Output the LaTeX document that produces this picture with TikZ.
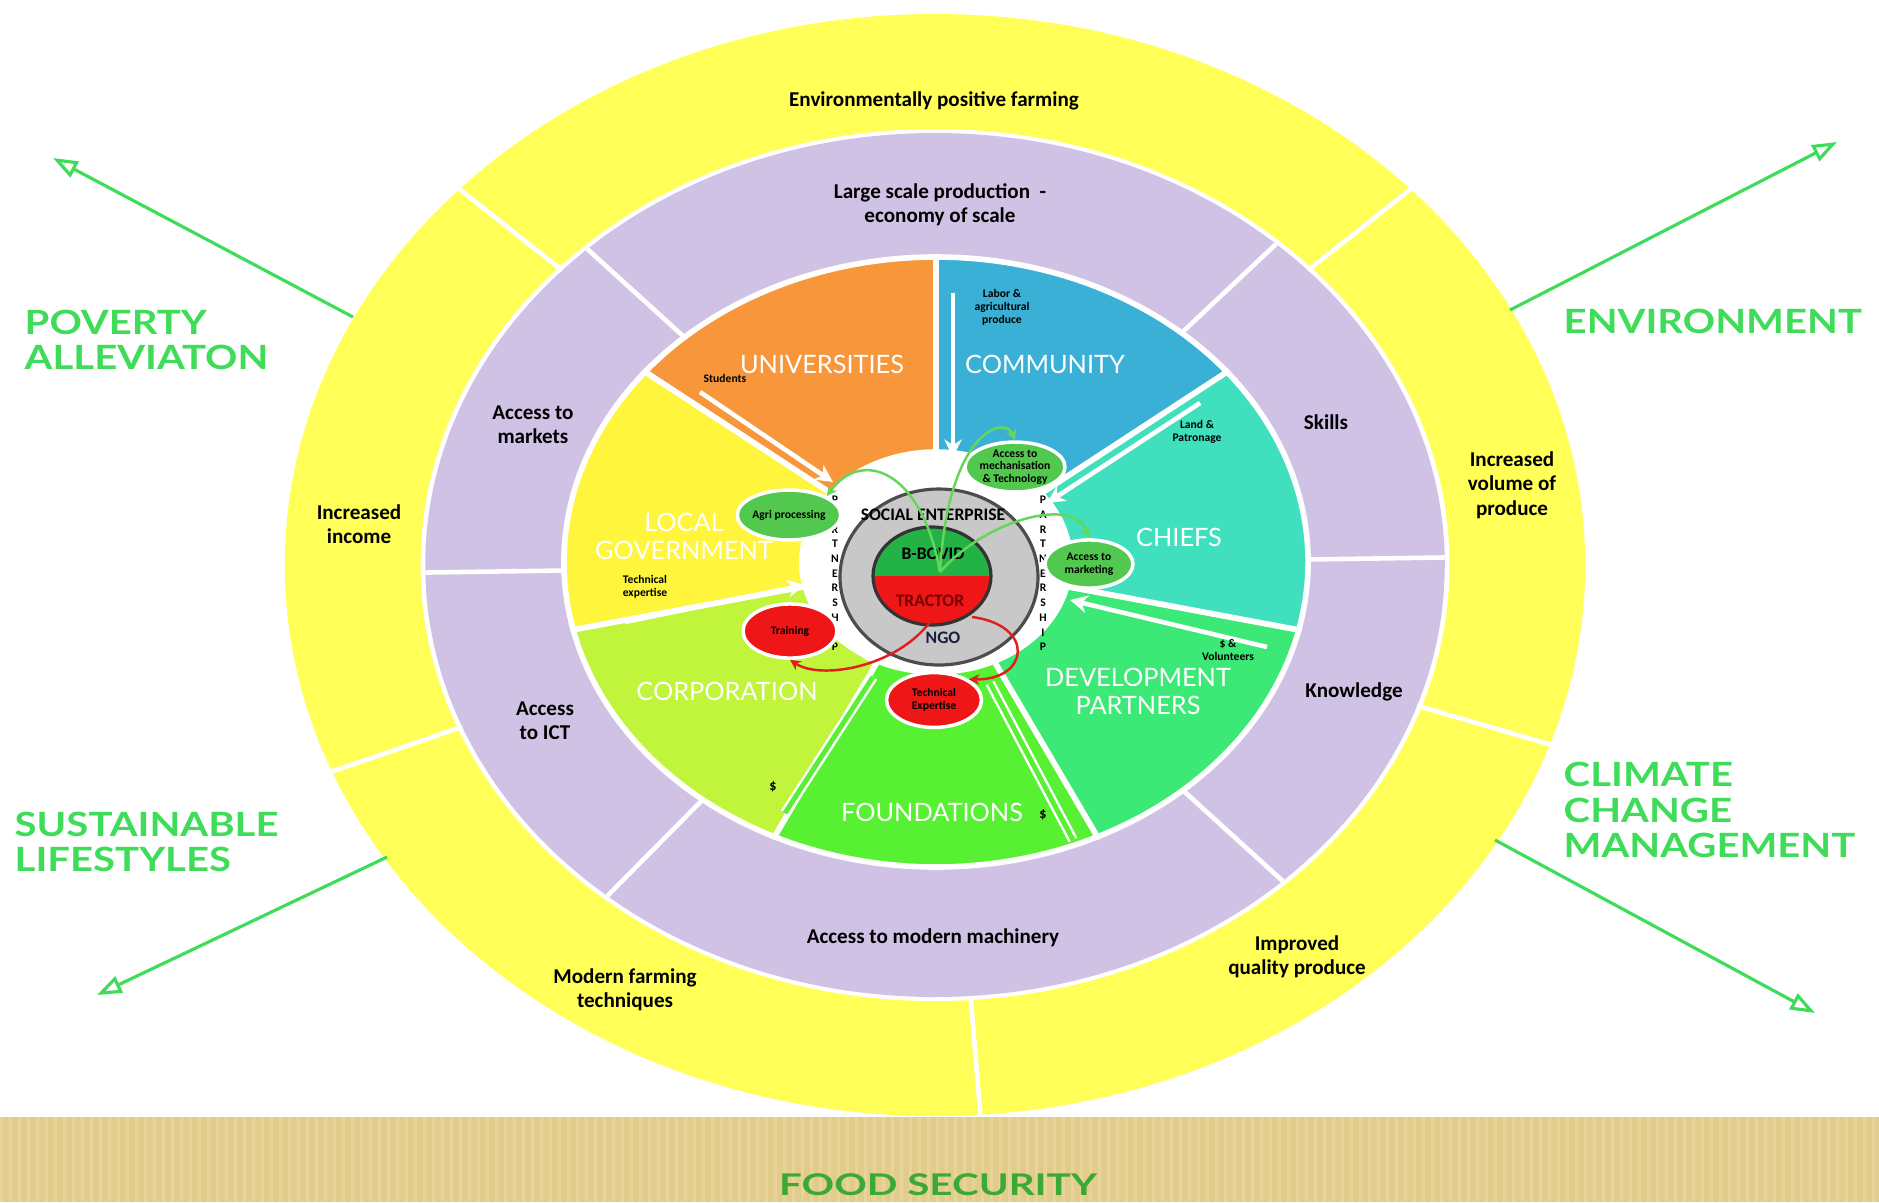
\documentclass[tikz,border=0pt]{standalone}
\usepackage{fontspec}
\setmainfont{Carlito}
\newfontfamily\goalfont[FakeStretch=1.2]{Lato}
\newfontfamily\bandfont[FakeStretch=1.35]{Lato}
\newfontfamily\wedgefont{Lato}
\usetikzlibrary{arrows.meta,shapes.geometric}

\definecolor{ringYellow}{RGB}{255,255,88}
\definecolor{ringPurple}{RGB}{207,194,228}
\definecolor{wUni}{RGB}{247,150,58}
\definecolor{wComm}{RGB}{58,176,214}
\definecolor{wChiefs}{RGB}{64,224,190}
\definecolor{wDevp}{RGB}{60,232,118}
\definecolor{wFound}{RGB}{88,240,50}
\definecolor{wCorp}{RGB}{192,245,60}
\definecolor{wLocal}{RGB}{255,245,60}
\definecolor{goalGreen}{RGB}{62,220,88}
\definecolor{ovalGreen}{RGB}{82,200,78}
\definecolor{ovalRed}{RGB}{238,22,22}
\definecolor{bovidGreen}{RGB}{34,178,70}
\definecolor{coreGray}{RGB}{200,200,200}
\definecolor{bandTan}{RGB}{226,204,140}
\definecolor{bandLight}{RGB}{238,220,168}
\definecolor{foodGreen}{RGB}{58,170,52}
\definecolor{linkGreen}{RGB}{100,215,90}
\definecolor{linkRed}{RGB}{225,30,30}
\definecolor{tractorText}{RGB}{120,0,0}
\definecolor{ngoText}{RGB}{25,30,60}

\tikzset{
    sep/.style={draw=white, line width=1.3pt},
    wedge/.style={draw=white, line width=1.6pt},
    wedgelabel/.style={text=white, font=\wedgefont\fontsize{7.2}{8}\selectfont, align=center},
    ringlabel/.style={font=\bfseries\fontsize{6}{6.9}\selectfont, align=center},
    tinylabel/.style={font=\bfseries\fontsize{3.3}{3.7}\selectfont, align=center, inner sep=0pt},
    goal/.style={text=goalGreen, font=\goalfont\bfseries\fontsize{9.5}{10}\selectfont, align=left, anchor=west, inner sep=0pt},
    flow/.style={draw=white, line width=1.3pt, -{Stealth[length=5pt,width=5pt]}},
    rail/.style={draw=white, line width=0.7pt, double=#1, double distance=1.4pt},
    ovalg/.style={ellipse, fill=ovalGreen, draw=white, line width=1pt, inner sep=0pt, align=center, font=\bfseries\fontsize{3.3}{3.6}\selectfont},
    ovalr/.style={ovalg, fill=ovalRed},
    linkg/.style={draw=linkGreen, line width=0.7pt, -{Stealth[length=3pt,width=3pt]}},
    linkr/.style={draw=linkRed, line width=0.7pt, -{Stealth[length=3pt,width=3pt]}},
    outarrow/.style={draw=goalGreen, line width=0.9pt, -{Triangle[open,length=7pt,width=5pt]}},
    corelabel/.style={font=\bfseries\fontsize{5}{5.5}\selectfont, inner sep=0pt},
}

\begin{document}
\begin{tikzpicture}[x=0.01cm, y=0.01cm]
    \useasboundingbox (0,0) rectangle (1879,-1202);

    % outer rings
    \begin{scope}[shift={(935,-565)}, xscale=1.18]
        \fill[ringYellow] (0,0) circle (551);
        \fill[white] (0,0) circle (436);
        \fill[ringPurple] (0,0) circle (432);
        \foreach \a in {43,137,-19,-86,-158}
            \draw[sep] (\a:432) -- (\a:552);
        \foreach \a in {48,133,181,-130,-47,1}
            \draw[sep] (\a:290) -- (\a:432);
    \end{scope}

    % seven partners
    \begin{scope}[shift={(936,-562)}, xscale=1.22]
        \foreach \fillc [count=\i from 0] in {wUni,wLocal,wCorp,wFound,wDevp,wChiefs,wComm} {
            \pgfmathsetmacro\angA{90+\i*360/7}
            \pgfmathsetmacro\angB{\angA+360/7}
            \filldraw[wedge, fill=\fillc] (\angA:110) -- (\angA:305) arc (\angA:\angB:305) -- (\angB:110) arc (\angB:\angA:110) -- cycle;
        }
        \fill[white] (0,0) circle (111);
    \end{scope}

    % food security band
    \fill[bandTan] (0,-1117) rectangle (1879,-1202);
    \foreach \s in {0,9,...,1875}
        \fill[bandLight, opacity=0.5] (\s,-1117) rectangle ++(3,-85);
    \node[text=foodGreen, font=\bandfont\bfseries\fontsize{8.5}{9}\selectfont] (food) at (938,-1185) {FOOD SECURITY};

    % flows into the hub
    \coordinate (stu-a) at (700,-392);   \coordinate (stu-b) at (833,-482);
    \coordinate (lab-a) at (953,-293);   \coordinate (lab-b) at (953,-457);
    \coordinate (land-a) at (1200,-403); \coordinate (land-b) at (1047,-503);
    \coordinate (vol-a) at (1267,-647);  \coordinate (vol-b) at (1070,-600);
    \coordinate (tech-a) at (625,-622);  \coordinate (tech-b) at (805,-585);
    \coordinate (fdl-a) at (785,-813);   \coordinate (fdl-b) at (873,-677);
    \coordinate (fdr-a) at (1073,-840);  \coordinate (fdr-b) at (990,-683);
    \draw[flow] (stu-a) -- (stu-b);
    \draw[flow] (lab-a) -- (lab-b);
    \draw[flow] (land-a) -- (land-b);
    \draw[flow] (vol-a) -- (vol-b);
    \draw[flow] (tech-a) -- (tech-b);
    \draw[rail=wFound] (fdl-a) -- (fdl-b);
    \draw[rail=wFound] (fdr-a) -- (fdr-b);

    % social enterprise core
    \filldraw[fill=coreGray, draw=black!70, line width=0.9pt] (939,-577) ellipse (99 and 88);
    \fill[bovidGreen] (873,-576) arc (180:0:59 and 49) -- cycle;
    \fill[ovalRed] (873,-576) arc (180:360:59 and 49) -- cycle;
    \draw[black!80, line width=0.9pt] (932,-576) ellipse (59 and 49);
    \node[corelabel] (enterprise) at (933,-515) {SOCIAL ENTERPRISE};
    \node[corelabel] (bovid) at (933,-554) {B-BOVID};
    \node[corelabel, text=tractorText] (tractor) at (930,-601) {TRACTOR};
    \node[corelabel, text=ngoText] (ngo) at (943,-638) {NGO};

    \foreach \l [count=\i] in {P,A,R,T,N,E,R,S,H,I,P} {
        \node[tinylabel] (pl\i) at (835,{-500-14.7*(\i-1)}) {\l};
        \node[tinylabel] (pr\i) at (1043,{-500-14.7*(\i-1)}) {\l};
    }

    % services
    \node[ovalg, minimum width=26.7pt, minimum height=14.2pt] (mech) at (1015,-467) {Access to\\mechanisation\\\& Technology};
    \node[ovalg, minimum width=25pt, minimum height=13.7pt] (market) at (1089,-564) {Access to\\marketing};
    \node[ovalg, minimum width=25pt, minimum height=14.2pt] (agri) at (789,-515) {Agri processing};
    \node[ovalr, minimum width=26.7pt, minimum height=15.4pt] (training) at (790,-631) {Training};
    \node[ovalr, minimum width=27pt, minimum height=15.6pt] (techexp) at (934,-700) {Technical\\Expertise};

    \coordinate (bovidcore) at (940,-572);
    \coordinate (tractorcore1) at (930,-622);
    \coordinate (tractorcore2) at (972,-617);
    \draw[linkg] (bovidcore) .. controls (922,-470) and (862,-448) .. (agri.north east);
    \draw[linkg] (bovidcore) .. controls (948,-430) and (1005,-415) .. (mech.north);
    \draw[linkg] (bovidcore) .. controls (985,-520) and (1075,-495) .. (market.north);
    \draw[linkr] (tractorcore1) .. controls (895,-668) and (820,-680) .. (training.south);
    \draw[linkr] (tractorcore2) .. controls (1035,-625) and (1030,-680) .. (techexp.north east);

    % partner names
    \node[wedgelabel] (universities) at (822,-364) {UNIVERSITIES};
    \node[wedgelabel] (community) at (1045,-364) {COMMUNITY};
    \node[wedgelabel] (chiefs) at (1179,-537) {CHIEFS};
    \node[wedgelabel] (devpartners) at (1138,-691) {DEVELOPMENT\\PARTNERS};
    \node[wedgelabel] (foundations) at (932,-812) {FOUNDATIONS};
    \node[wedgelabel] (corporation) at (727,-691) {CORPORATION};
    \node[wedgelabel] (localgov) at (684,-536) {LOCAL\\GOVERNMENT};

    \node[tinylabel] (students) at (725,-378) {Students};
    \node[tinylabel] (labor) at (1002,-307) {Labor \&\\agricultural\\produce};
    \node[tinylabel] (land) at (1197,-432) {Land \&\\Patronage};
    \node[tinylabel] (volunteers) at (1228,-650) {\$ \&\\Volunteers};
    \node[tinylabel] (expertise) at (645,-587) {Technical\\expertise};
    \node[tinylabel, font=\bfseries\fontsize{4}{4}\selectfont] (corpfund) at (773,-787) {\$};
    \node[tinylabel, font=\bfseries\fontsize{4}{4}\selectfont] (foundfund) at (1043,-815) {\$};

    % purple ring
    \node[ringlabel] (scale) at (940,-205) {Large scale production \ -\\economy of scale};
    \node[ringlabel] (markets) at (533,-425) {Access to\\markets};
    \node[ringlabel] (skills) at (1326,-422) {Skills};
    \node[ringlabel] (ict) at (545,-721) {Access\\to ICT};
    \node[ringlabel] (knowledge) at (1354,-692) {Knowledge};
    \node[ringlabel] (machinery) at (933,-938) {Access to modern machinery};

    % yellow ring
    \node[ringlabel] (ecofarm) at (934,-101) {Environmentally positive farming};
    \node[ringlabel] (income) at (359,-524) {Increased\\income};
    \node[ringlabel] (volume) at (1512,-485) {Increased\\volume of\\produce};
    \node[ringlabel] (quality) at (1297,-957) {Improved\\quality produce};
    \node[ringlabel] (techniques) at (625,-990) {Modern farming\\techniques};

    % goals
    \node[goal] (poverty) at (24,-340) {POVERTY\\ALLEVIATON};
    \node[goal] (environment) at (1563,-321) {ENVIRONMENT};
    \node[goal] (sustainable) at (14,-842) {SUSTAINABLE\\LIFESTYLES};
    \node[goal] (climate) at (1563,-810) {CLIMATE\\CHANGE\\MANAGEMENT};

    \coordinate (pov-from) at (353,-317);  \coordinate (pov-to) at (53,-158);
    \coordinate (env-from) at (1510,-310); \coordinate (env-to) at (1837,-142);
    \coordinate (sus-from) at (387,-857);  \coordinate (sus-to) at (97,-995);
    \coordinate (cli-from) at (1495,-840); \coordinate (cli-to) at (1815,-1013);
    \draw[outarrow] (pov-from) -- (pov-to);
    \draw[outarrow] (env-from) -- (env-to);
    \draw[outarrow] (sus-from) -- (sus-to);
    \draw[outarrow] (cli-from) -- (cli-to);
\end{tikzpicture}
\end{document}
